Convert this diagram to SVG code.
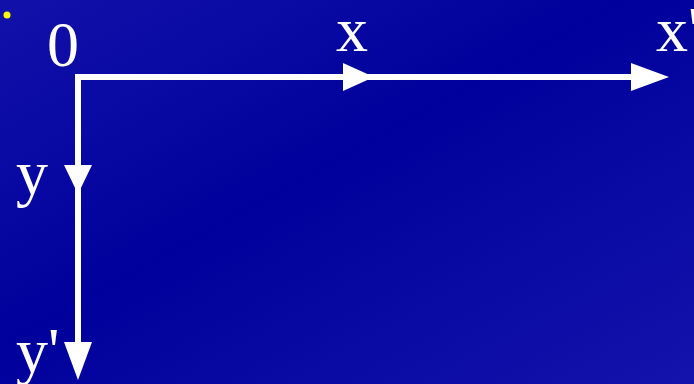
<svg xmlns="http://www.w3.org/2000/svg" width="694" height="384" viewBox="0 0 694 384">
<defs>
<linearGradient id="bg" x1="0" y1="0" x2="1" y2="1">
<stop offset="0" stop-color="#1212AA"/>
<stop offset="0.45" stop-color="#00009C"/>
<stop offset="1" stop-color="#1414AC"/>
</linearGradient>
<style>
.lbl{font-family:"Liberation Serif","Times New Roman",serif;font-size:64px;fill:#fff}
.ax{stroke:#fff;stroke-width:6;fill:none}
.ah{fill:#fff}
</style>
</defs>
<rect width="694" height="384" fill="url(#bg)"/>
<circle cx="7" cy="15" r="3.5" fill="#ffff00"/>
<g id="connectors">
<path class="ax" d="M640 77 H75 M78 74 V370"/>
<polygon class="ah" points="343,63 374,77 343,91"/>
<polygon class="ah" points="631,63 669,77 631,91"/>
<polygon class="ah" points="64,165 92,165 78,194"/>
<polygon class="ah" points="64,342 92,342 78,380"/>
</g>
<g id="origin"><text class="lbl" x="47" y="66">0</text></g>
<g id="x"><text class="lbl" x="336" y="51">x</text></g>
<g id="xp"><text class="lbl" x="656" y="51">x'</text></g>
<g id="y"><text class="lbl" x="16" y="194">y</text></g>
<g id="yp"><text class="lbl" x="16" y="372">y'</text></g>
</svg>
